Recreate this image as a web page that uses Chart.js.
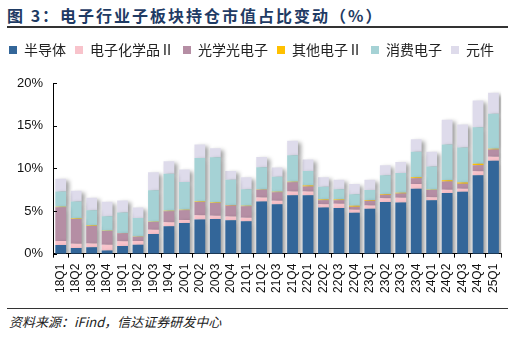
<!DOCTYPE html>
<html>
<head>
<meta charset="utf-8">
<script src="https://cdn.jsdelivr.net/npm/chart.js@4/dist/chart.umd.min.js"></script>
<style>
  body { margin: 0; width: 514px; height: 339px; background: #fff; position: relative; overflow: hidden; font-family: "Noto Sans CJK SC", sans-serif; }
  #title { position: absolute; left: 7px; top: 3px; font-size: 16px; font-weight: bold; color: #1f3b64; letter-spacing: 2px; white-space: nowrap; }
  #topline { position: absolute; left: 7px; top: 26px; width: 501px; height: 2px; background: #333; }
  #bottomline { position: absolute; left: 7px; top: 308px; width: 501px; height: 1px; background: #333; }
  #source { position: absolute; left: 9px; top: 312px; font-size: 13px; font-style: italic; color: #222; white-space: nowrap; }
  #box { position: absolute; left: 0; top: 34px; width: 514px; height: 265px; }
</style>
</head>
<body>
<div id="title">图 3：电子行业子板块持仓市值占比变动（%）</div>
<div id="topline"></div>
<div id="box"><canvas id="myChart"></canvas></div>
<div id="bottomline"></div>
<div id="source">资料来源：iFind，信达证券研发中心</div>
<script>
let quarters = ['18Q1','18Q2','18Q3','18Q4','19Q1','19Q2','19Q3','19Q4','20Q1','20Q2','20Q3','20Q4',
  '21Q1','21Q2','21Q3','21Q4','22Q1','22Q2','22Q3','22Q4','23Q1','23Q2','23Q3','23Q4','24Q1','24Q2','24Q3','24Q4','25Q1']

// 持仓市值占比, %
let semi     = [1.0, 0.65, 0.74, 0.38, 0.9, 1.05, 2.3, 3.2, 3.6, 4.0, 4.05, 3.9, 3.8, 6.1, 5.8, 6.85, 6.85, 5.4, 5.35, 4.8, 5.25, 6.05, 6.0, 7.6, 6.25, 7.1, 7.25, 9.2, 10.9]
let chem     = [0.47, 0.52, 0.46, 0.67, 0.55, 0.42, 0.5, 0.47, 0.35, 0.5, 0.4, 0.45, 0.4, 0.48, 0.4, 0.43, 0.43, 0.4, 0.5, 0.35, 0.4, 0.45, 0.55, 0.55, 0.35, 0.4, 0.35, 0.45, 0.45]
let opto     = [3.97, 2.9, 2.05, 1.6, 0.95, 0.5, 0.9, 1.3, 1.15, 1.55, 1.5, 1.3, 1.35, 0.9, 1.0, 1.1, 0.6, 0.45, 0.4, 0.35, 0.55, 0.4, 0.5, 0.7, 0.85, 0.95, 0.6, 0.7, 0.85]
let other    = [0.05, 0.05, 0.05, 0.03, 0.03, 0.05, 0.03, 0.05, 0.05, 0.05, 0.05, 0.05, 0.05, 0.05, 0.05, 0.05, 0.1, 0.1, 0.1, 0.1, 0.1, 0.1, 0.1, 0.1, 0.05, 0.15, 0.15, 0.2, 0.1]
let consumer = [1.8, 2.0, 1.8, 1.7, 2.4, 2.15, 3.7, 4.35, 3.25, 5.1, 5.3, 2.95, 1.95, 2.6, 1.75, 3.1, 1.7, 1.5, 1.2, 1.35, 1.15, 2.2, 2.3, 3.0, 2.7, 4.2, 4.1, 4.25, 4.1]
let comp     = [1.5, 1.25, 1.45, 1.7, 1.4, 1.25, 2.1, 1.45, 1.45, 1.6, 1.05, 1.05, 1.4, 1.2, 1.1, 1.7, 1.35, 1.1, 1.1, 1.2, 1.2, 1.15, 1.3, 1.45, 1.75, 2.9, 2.7, 3.15, 2.45]

let yTickVals = [0, 5, 10, 15, 20]

// gray drop shadow to the right of each bar
const barShadow = {
  id: 'barShadow',
  beforeDatasetsDraw(chart) {
    let c = chart.ctx
    c.save()
    c.shadowColor = 'rgba(0,0,0,0.38)'
    c.shadowBlur = 4
    c.shadowOffsetX = 3
    c.shadowOffsetY = 2
  },
  afterDatasetsDraw(chart) {
    chart.ctx.restore()
  }
}

// small ticks on the inside of the y axis
const innerTicks = {
  id: 'innerTicks',
  afterDraw(chart) {
    let y = chart.scales.y
    let c = chart.ctx
    c.save()
    c.strokeStyle = '#000'
    c.lineWidth = 1
    y.ticks.forEach(t => {
      let py = Math.round(y.getPixelForValue(t.value)) + 0.5
      c.beginPath()
      c.moveTo(y.right, py)
      c.lineTo(y.right + 4, py)
      c.stroke()
    })
    c.restore()
  }
}

// extra room between legend and plot
const legendGap = {
  id: 'legendGap',
  beforeInit(chart) {
    let fit = chart.legend.fit
    chart.legend.fit = function() {
      fit.bind(chart.legend)()
      this.height += 16
    }
  }
}

function ds(label, data, color) {
  return { label: label, data: data, backgroundColor: color, borderWidth: 0,
    barPercentage: 0.7, categoryPercentage: 1 }
}

let ctx = document.getElementById('myChart').getContext('2d')
let myChart = new Chart(ctx, {
  type: 'bar',
  data: {
    labels: quarters,
    datasets: [
      ds('半导体', semi, '#336699'),
      ds('电子化学品Ⅱ', chem, '#f8c3cb'),
      ds('光学光电子', opto, '#b58ea4'),
      ds('其他电子Ⅱ', other, '#ffc000'),
      ds('消费电子', consumer, '#a5d2d5'),
      ds('元件', comp, '#dedbeb')
    ]
  },
  options: {
    responsive: true,
    maintainAspectRatio: false,
    animation: false,
    layout: { padding: { left: 0, right: 7, top: 0, bottom: 0 } },
    plugins: {
      legend: {
        align: 'start',
        labels: {
          boxWidth: 8, boxHeight: 8, padding: 9,
          color: '#222',
          font: { family: '"Noto Sans CJK SC", sans-serif', size: 14 }
        }
      },
      tooltip: { enabled: false }
    },
    scales: {
      x: {
        stacked: true,
        grid: { display: true, drawOnChartArea: false, drawTicks: true, tickLength: 4, color: '#000', offset: true },
        border: { color: '#000', width: 1 },
        ticks: {
          autoSkip: false, minRotation: 90, maxRotation: 90, padding: 6,
          color: '#111', font: { family: '"Liberation Sans", Arial, sans-serif', size: 12 }
        }
      },
      y: {
        stacked: true,
        min: 0, max: 20,
        afterBuildTicks(s) { s.ticks = yTickVals.map(v => ({ value: v })) },
        afterFit(s) { s.width = 53 },
        grid: { display: false, drawTicks: false },
        border: { color: '#000', width: 1 },
        ticks: {
          padding: 10,
          color: '#111',
          font: { family: '"Liberation Sans", Arial, sans-serif', size: 13 },
          callback: v => v + '%'
        }
      }
    }
  },
  plugins: [barShadow, innerTicks, legendGap]
})
</script>
</body>
</html>
